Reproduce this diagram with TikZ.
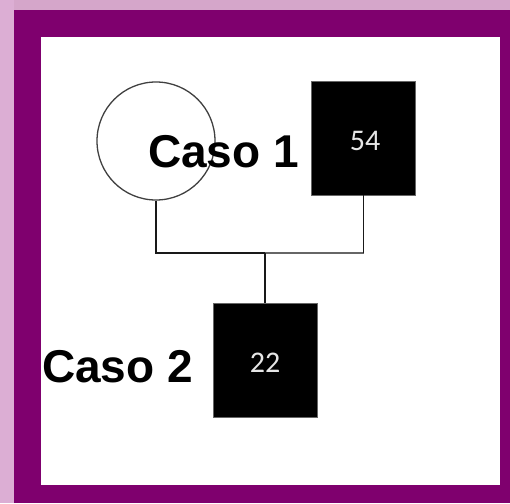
\documentclass[tikz,border=0pt]{standalone}
\usepackage{fontspec}
\setmainfont{Liberation Sans}
\newfontfamily\numfont{Carlito}
\definecolor{bgpink}{HTML}{D5A6CA}
\definecolor{bgstrip}{HTML}{DCAED4}
\definecolor{framepurple}{HTML}{7F006E}
\definecolor{numgray}{HTML}{E6E6E6}
\begin{document}
\begin{tikzpicture}[x=1pt,y=-1pt,
  female/.style={circle,draw=black!75,line width=1.3pt,fill=white,minimum size=118pt,inner sep=0pt},
  male/.style={rectangle,draw=black!60,line width=0.8pt,fill=black,minimum width=104pt,minimum height=114pt,inner sep=0pt},
  agelabel/.style={text=numgray,font=\numfont\fontsize{30}{30}\selectfont,inner sep=0pt,anchor=base},
  caselabel/.style={font=\bfseries\fontsize{46}{46}\selectfont,inner sep=0pt,anchor=base west},
  kin/.style={line width=1.4pt,draw=black!90}]
\useasboundingbox (0,0) rectangle (510,503);
\fill[bgpink] (0,0) rectangle (510,503);
\fill[bgstrip] (0,0) rectangle (14,503);
\fill[framepurple] (14,10) rectangle (510,503);
\fill[white] (41,37) rectangle (500,485);
% people
\node[female] (mother) at (156,141) {};
\node[male] (father) at (363.5,138) {};
\node[male] (child) at (265,360) {};
\node[agelabel] (age54) at (365,150) {54};
\node[agelabel] (age22) at (265,372) {22};
% connectors
\coordinate (ml) at (156,253);
\coordinate (fl) at (363.5,253);
\coordinate (mid) at (265,253);
\draw[kin] (mother.south) -- (ml) -- (mid);
\draw[kin,draw=black!60,line width=1.8pt] (mid) -- (fl);
\draw[kin] (fl) -- (father.south);
\draw[kin] (mid) -- (child.north);
% labels
\node[caselabel] (caso1) at (148,167) {Caso 1};
\node[caselabel] (caso2) at (42,382) {Caso 2};
\end{tikzpicture}
\end{document}
